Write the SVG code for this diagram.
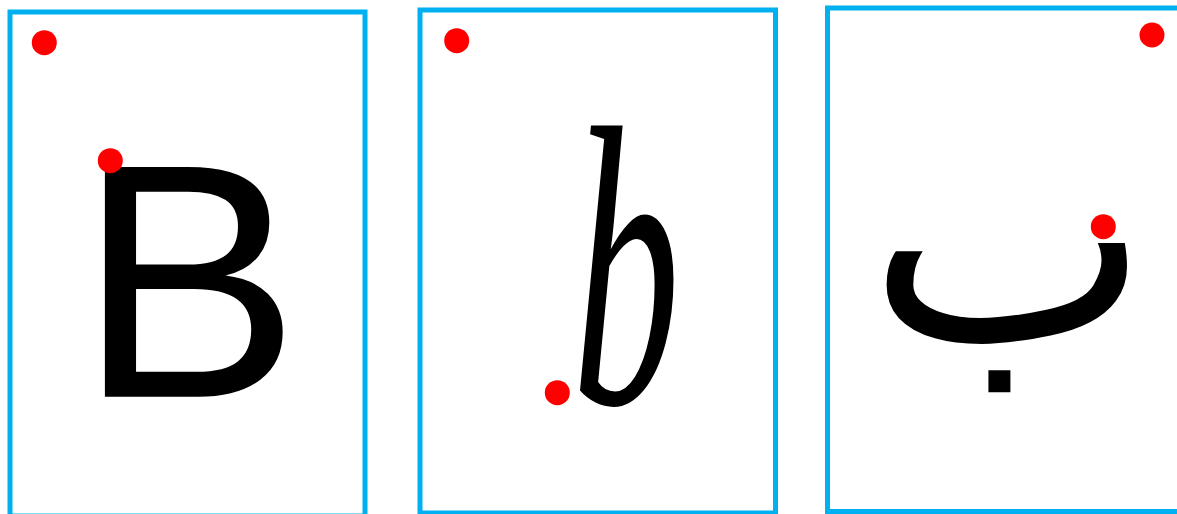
<svg xmlns="http://www.w3.org/2000/svg" width="1177" height="514" viewBox="0 0 1177 514">
<style>
.box{fill:#FFFFFF;stroke:#00B0F0;stroke-width:5}
.dot{fill:#FF0000}
.glyph{fill:#000000}
</style>
<rect width="1177" height="514" fill="#FFFFFF"/>
<g id="panel-latin">
<rect class="box" x="10" y="12" width="355" height="504"/>
<text class="glyph" x="77.5" y="396.7" font-family="Liberation Sans, Arial, sans-serif" font-size="334">B</text>
<circle class="dot" cx="44.3" cy="42.7" r="12.5"/>
<circle class="dot" cx="110.3" cy="160.7" r="12.5"/>
</g>
<g id="panel-script">
<rect class="box" x="420" y="10" width="355.5" height="503"/>
<text class="glyph" transform="translate(572 403) scale(0.54 1)" x="0" y="0" font-family="Liberation Serif, Times New Roman, serif" font-style="italic" font-size="400">b</text>
<circle class="dot" cx="557.3" cy="392.7" r="12.5"/>
<circle class="dot" cx="456.7" cy="40.7" r="12.5"/>
</g>
<g id="panel-arabic">
<rect class="box" x="827.5" y="8" width="360" height="503.5"/>
<text class="glyph" x="1150" y="341" text-anchor="end" font-family="DejaVu Sans, sans-serif" font-size="300">ب</text>
<circle class="dot" cx="1152" cy="35" r="12.5"/>
<circle class="dot" cx="1103.3" cy="226.7" r="12.5"/>
</g>
</svg>
